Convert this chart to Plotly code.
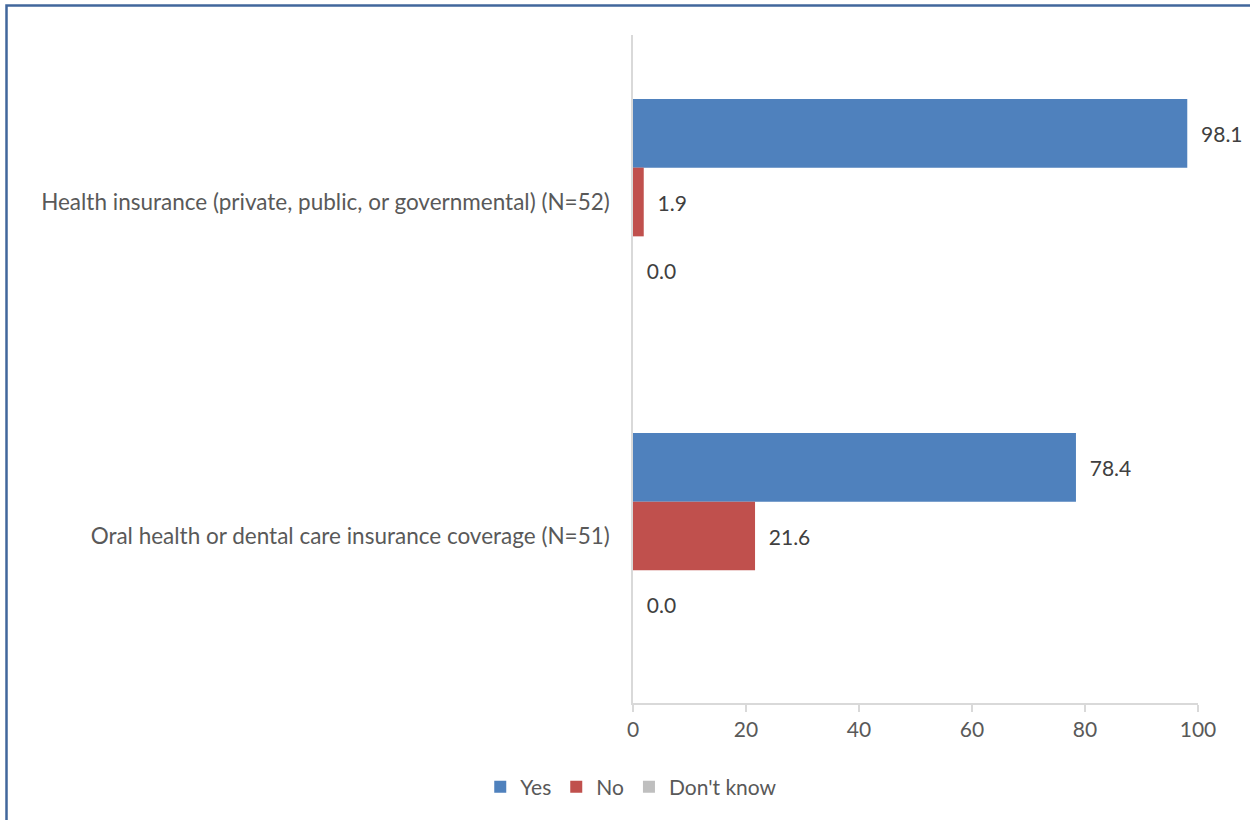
import plotly.graph_objects as go

categories = ["Health insurance (private, public, or governmental) (N=52)",
              "Oral health or dental care insurance coverage (N=51)"]
series_names = ["Yes", "No", "Don't know"]
yes_vals = [98.1, 78.4]
no_vals = [1.9, 21.6]
dk_vals = [0.0, 0.0]
x_ticks = [0, 20, 40, 60, 80, 100]

colors = ["#4F81BD", "#C0504D", "#BFBFBF"]
FONT = "Lato"
FS = 21

fig = go.Figure()
for name, vals, col in zip(series_names, [yes_vals, no_vals, dk_vals], colors):
    fig.add_trace(go.Bar(
        y=categories, x=vals, name=name, orientation="h",
        marker=dict(color=col, line=dict(width=0)),
        text=vals, texttemplate="\u00a0\u00a0%{x:.1f}", textposition="outside",
        textfont=dict(family=FONT, size=FS, color="#404040"),
        cliponaxis=False,
    ))

L, R, T, B = 633, 52, 35, 117
W, H = 1250, 820
pw, ph = W - L - R, H - T - B

fig.update_layout(
    width=W, height=H,
    margin=dict(l=L, r=R, t=T, b=B, autoexpand=False),
    barmode="group", bargap=0.383, bargroupgap=0,
    paper_bgcolor="white", plot_bgcolor="white",
    font=dict(family=FONT, size=FS, color="#595959"),
    showlegend=True,
    legend=dict(orientation="h", xref="container", yref="container",
                x=0.505, xanchor="center", y=0.04, yanchor="middle",
                font=dict(family=FONT, size=FS, color="#595959"),
                itemwidth=30, traceorder="normal"),
    xaxis=dict(range=[0, 100], tickvals=x_ticks, showgrid=False, zeroline=False,
               showline=True, linecolor="#D9D9D9", linewidth=1.5,
               ticks="outside", ticklen=7, tickcolor="#D9D9D9", tickwidth=1.5,
               tickfont=dict(family=FONT, size=FS, color="#595959")),
    yaxis=dict(autorange="reversed", showgrid=False, zeroline=False,
               showline=True, linecolor="#D9D9D9", linewidth=1.5,
               ticks="", ticklabelstandoff=17,
               tickfont=dict(family=FONT, size=22.5, color="#595959")),
    shapes=[dict(type="rect", xref="paper", yref="paper",
                 x0=(6.5 - L) / pw, x1=(1260 - L) / pw,
                 y0=1 + (T - 5.5) / ph, y1=-(830 - (H - B)) / ph,
                 line=dict(color="#41679C", width=2.5), fillcolor="rgba(0,0,0,0)",
                 layer="above")],
)

fig.write_html("out.html", config={"displayModeBar": False},
               post_script="document.body.style.margin='0';document.body.style.overflow='hidden';")
